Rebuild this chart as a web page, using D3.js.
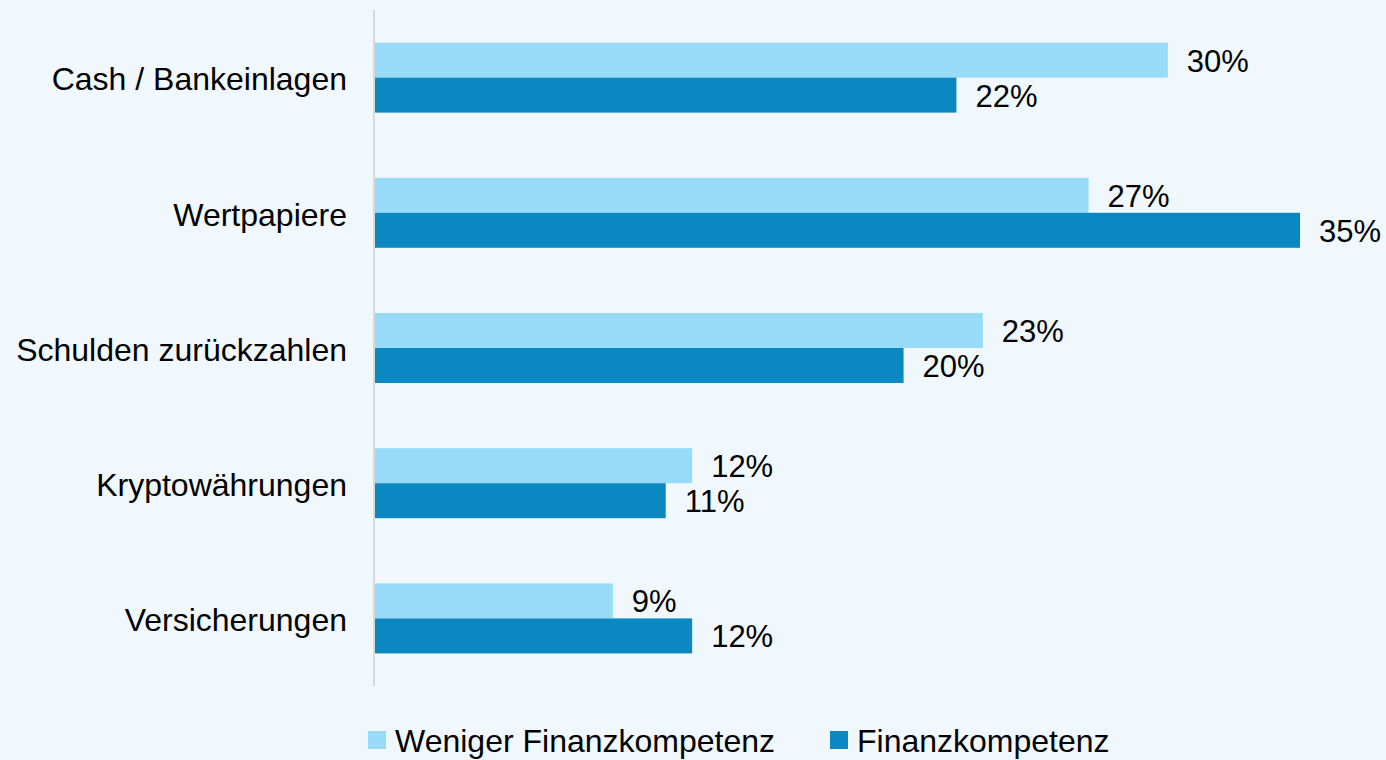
<!DOCTYPE html>
<html>
<head>
<meta charset="utf-8">
<script src="https://cdn.jsdelivr.net/npm/d3@7"></script>
<style>
  body { margin: 0; background: #f0f8fe; }
  svg text { font-family: "Liberation Sans", Arial, sans-serif; fill: #000; }
</style>
</head>
<body>
<div id="chart"></div>
<script>
const categories = ["Cash / Bankeinlagen", "Wertpapiere", "Schulden zurückzahlen", "Kryptowährungen", "Versicherungen"];
const seriesNames = ["Weniger Finanzkompetenz", "Finanzkompetenz"];
const weniger = [30, 27, 23, 12, 9];
const kompetenz = [22, 35, 20, 11, 12];
const colors = ["#97dbf9", "#0b88c1"];

const width = 1386, height = 760;

const svg = d3.select("#chart")
  .append("svg")
  .attr("width", width)
  .attr("height", height);

svg.append("rect")
  .attr("width", width)
  .attr("height", height)
  .attr("fill", "#f0f8fe");

const x = d3.scaleLinear().domain([0, 35]).range([375, 1300]);
const y = d3.scaleBand().domain(categories).range([10, 686]);
const ySub = d3.scaleBand().domain(seriesNames).range([-35, 35]);

const rows = categories.map((c, i) => ({
  category: c,
  values: [
    { series: seriesNames[0], value: weniger[i] },
    { series: seriesNames[1], value: kompetenz[i] }
  ]
}));

const color = d3.scaleOrdinal().domain(seriesNames).range(colors);

const groups = svg.selectAll("g.group")
  .data(rows)
  .enter()
  .append("g")
  .attr("class", "group")
  .attr("transform", d => `translate(0,${y(d.category) + y.bandwidth() / 2})`);

groups.selectAll("rect")
  .data(d => d.values)
  .enter()
  .append("rect")
  .attr("x", x(0))
  .attr("y", d => ySub(d.series))
  .attr("width", d => x(d.value) - x(0))
  .attr("height", ySub.bandwidth())
  .attr("fill", d => color(d.series));

groups.selectAll("text.value")
  .data(d => d.values)
  .enter()
  .append("text")
  .attr("class", "value")
  .attr("x", d => x(d.value) + 19)
  .attr("y", d => ySub(d.series) + ySub.bandwidth() / 2)
  .attr("dy", "0.37em")
  .attr("font-size", "31px")
  .text(d => d.value + "%");

// category labels
groups.append("text")
  .attr("x", 347)
  .attr("y", 0)
  .attr("dy", "0.4em")
  .attr("text-anchor", "end")
  .attr("font-size", "32px")
  .text(d => d.category);

// vertical axis line
svg.append("line")
  .attr("x1", 374).attr("x2", 374)
  .attr("y1", y.range()[0]).attr("y2", y.range()[1])
  .attr("stroke", "#d9d9d9")
  .attr("stroke-width", 2);

// legend
const legendX = [368, 830];
const legend = svg.selectAll("g.legend")
  .data(seriesNames)
  .enter()
  .append("g")
  .attr("class", "legend")
  .attr("transform", (d, i) => `translate(${legendX[i]},731)`);

legend.append("rect")
  .attr("width", 18)
  .attr("height", 18)
  .attr("fill", d => color(d));

legend.append("text")
  .attr("x", 27)
  .attr("y", 9)
  .attr("dy", "0.37em")
  .attr("font-size", "32px")
  .text(d => d);
</script>
</body>
</html>
